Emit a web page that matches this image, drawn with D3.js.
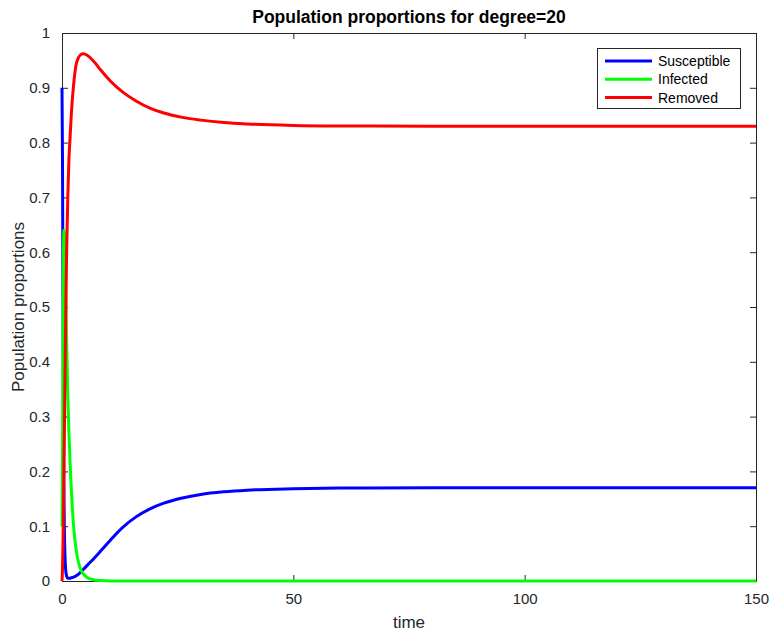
<!DOCTYPE html>
<html>
<head>
<meta charset="utf-8">
<script src="https://cdn.jsdelivr.net/npm/d3@7"></script>
<style>
  html, body { margin: 0; padding: 0; background: #fff; }
  svg { display: block; font-family: "Liberation Sans", Arial, Helvetica, sans-serif; }
</style>
</head>
<body>
<svg id="chart" width="770" height="633"></svg>
<script>
// Time samples shared by the three compartments
const times = [0, 0.1, 0.2, 0.3, 0.4, 0.5, 0.65, 0.8, 1.0, 1.25, 1.5, 1.75, 2.0, 2.5, 3.0, 3.5,
  4.0, 4.6, 5.5, 7, 8.5, 10.5, 13, 16, 19, 22, 26, 30, 35, 40, 50, 60, 80, 100, 150];

const susceptible = [0.90, 0.78, 0.55, 0.33, 0.18, 0.10, 0.045, 0.02, 0.009, 0.005, 0.005, 0.005,
  0.006, 0.007, 0.009, 0.012, 0.016, 0.021, 0.029, 0.042, 0.056, 0.075, 0.097, 0.117, 0.1315,
  0.142, 0.1515, 0.158, 0.1628, 0.1658, 0.1684, 0.1695, 0.170, 0.170, 0.170];

const infected = [0.10, 0.20, 0.40, 0.57, 0.64, 0.635, 0.59, 0.53, 0.44, 0.34, 0.27, 0.215,
  0.17, 0.10, 0.06, 0.036, 0.022, 0.013, 0.006, 0.002, 0.0008, 0.0002, 0, 0, 0,
  0, 0, 0, 0, 0, 0, 0, 0, 0, 0];

const removed = [0, 0.02, 0.06, 0.12, 0.19, 0.26, 0.37, 0.48, 0.60, 0.70, 0.77, 0.81,
  0.85, 0.905, 0.940, 0.954, 0.960, 0.962, 0.959, 0.947, 0.931, 0.912, 0.893, 0.876, 0.863,
  0.854, 0.846, 0.841, 0.8366, 0.834, 0.8314, 0.8305, 0.830, 0.830, 0.830];

const seriesNames = ["Susceptible", "Infected", "Removed"];
const seriesColors = ["#0000ff", "#00ff00", "#ff0000"];

const xTicks = [0, 50, 100, 150];
const yTicks = [0, 0.1, 0.2, 0.3, 0.4, 0.5, 0.6, 0.7, 0.8, 0.9, 1];

const titleText = "Population proportions for degree=20";
const xLabel = "time";
const yLabel = "Population proportions";

const svg = d3.select("#chart");
const plotLeft = 62, plotRight = 756, plotTop = 33, plotBottom = 581;
const axisColor = "#262626";

const x = d3.scaleLinear().domain([0, 150]).range([plotLeft, plotRight]);
const y = d3.scaleLinear().domain([0, 1]).range([plotBottom, plotTop]);

// axes box with inward ticks on all four sides
const tickLen = 6;
svg.append("g").attr("transform", `translate(0,${plotBottom})`)
  .call(d3.axisBottom(x).tickValues(xTicks).tickSizeInner(-tickLen).tickSizeOuter(0).tickPadding(12)
    .tickFormat(d3.format("d")));
svg.append("g").attr("transform", `translate(0,${plotTop})`)
  .call(d3.axisTop(x).tickValues(xTicks).tickSizeInner(-tickLen).tickSizeOuter(0).tickFormat(""));
svg.append("g").attr("transform", `translate(${plotLeft},0)`)
  .call(d3.axisLeft(y).tickValues(yTicks).tickSizeInner(-tickLen).tickSizeOuter(0).tickPadding(12)
    .tickFormat(d => d === 0 || d === 1 ? String(d) : d3.format(".1f")(d)));
svg.append("g").attr("transform", `translate(${plotRight},0)`)
  .call(d3.axisRight(y).tickValues(yTicks).tickSizeInner(-tickLen).tickSizeOuter(0).tickFormat(""));

svg.selectAll(".domain").attr("stroke", axisColor).attr("stroke-width", 1);
svg.selectAll(".tick line").attr("stroke", axisColor);
svg.selectAll(".tick text").attr("fill", axisColor).attr("font-size", 15)
  .attr("font-family", "'Liberation Sans', Arial, sans-serif");

// curves
const data = [susceptible, infected, removed];
const line = d3.line()
  .x((d, i) => x(times[i]))
  .y(d => y(d))
  .curve(d3.curveMonotoneX);

svg.append("g").selectAll("path").data(data).join("path")
  .attr("d", line)
  .attr("fill", "none")
  .attr("stroke", (d, i) => seriesColors[i])
  .attr("stroke-width", 3)
  .attr("stroke-linejoin", "round");

// title and axis labels
svg.append("text").attr("x", (plotLeft + plotRight) / 2).attr("y", 23)
  .attr("text-anchor", "middle").attr("font-weight", "bold").attr("font-size", 17.5)
  .attr("fill", "#000").text(titleText);
svg.append("text").attr("x", (plotLeft + plotRight) / 2).attr("y", 628)
  .attr("text-anchor", "middle").attr("font-size", 17).attr("fill", axisColor).text(xLabel);
svg.append("text").attr("transform", `translate(24,${(plotTop + plotBottom) / 2}) rotate(-90)`)
  .attr("text-anchor", "middle").attr("font-size", 17).attr("fill", axisColor).text(yLabel);

// legend
const lg = svg.append("g");
lg.append("rect").attr("x", 597.5).attr("y", 48.5).attr("width", 143).attr("height", 60)
  .attr("fill", "#fff").attr("stroke", axisColor).attr("stroke-width", 1);
seriesNames.forEach((name, i) => {
  const ry = 61 + i * 18.3;
  lg.append("line").attr("x1", 605).attr("x2", 652).attr("y1", ry).attr("y2", ry)
    .attr("stroke", seriesColors[i]).attr("stroke-width", 3);
  lg.append("text").attr("x", 658).attr("y", ry + 5).attr("font-size", 14)
    .attr("fill", "#000").text(name);
});
</script>
</body>
</html>
